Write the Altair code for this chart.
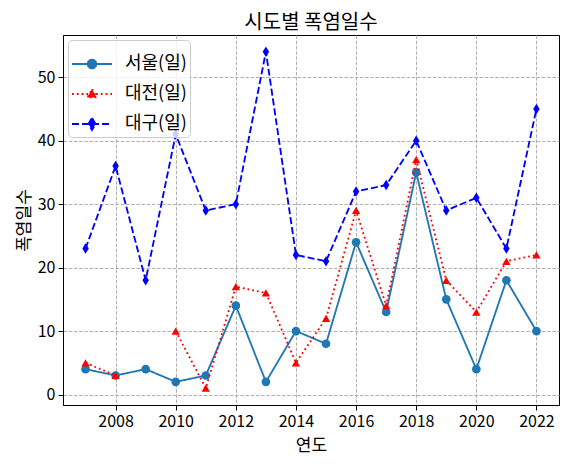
import altair as alt
import pandas as pd

years = list(range(2007, 2023))
seoul = [4, 3, 4, 2, 3, 14, 2, 10, 8, 24, 13, 35, 15, 4, 18, 10]
daejeon = [5, 3, None, 10, 1, 17, 16, 5, 12, 29, 14, 37, 18, 13, 21, 22]
daegu = [23, 36, 18, 41, 29, 30, 54, 22, 21, 32, 33, 40, 29, 31, 23, 45]

series_names = ["서울(일)", "대전(일)", "대구(일)"]
colors = ["#1f77b4", "#ff0000", "#0000ff"]
dashes = [[1, 0], [1.8, 3], [7, 3]]
marker_shapes = ["circle", "triangle-up", "M0,-1L0.62,0L0,1L-0.62,0Z"]
marker_sizes = [75, 70, 110]

# legend symbols: short line segment with the marker in the middle
legend_shapes = [
    "M-1,0L1,0M-0.22,0L-0.19,-0.11L-0.11,-0.19L0,-0.22L0.11,-0.19L0.19,-0.11"
    "L0.22,0L0.19,0.11L0.11,0.19L0,0.22L-0.11,0.19L-0.19,0.11Z",
    "M-1,0L1,0M0,-0.24L0.23,0.17L-0.23,0.17Z",
    "M-1,0L1,0M0,-0.3L0.18,0L0,0.3L-0.18,0Z",
]

FONT = "Noto Sans CJK KR"

rows = []
for name, vals in zip(series_names, [seoul, daejeon, daegu]):
    for y, v in zip(years, vals):
        rows.append({"year": y, "series": name, "value": v})
df = pd.DataFrame(rows)

x_enc = alt.X(
    "year:Q",
    title="연도",
    scale=alt.Scale(domain=[2006.25, 2022.75], nice=False, zero=False),
    axis=alt.Axis(values=list(range(2008, 2023, 2)), format="d"),
)
y_enc = alt.Y(
    "value:Q",
    title="폭염일수",
    scale=alt.Scale(domain=[-1.65, 56.65], nice=False, zero=False),
    axis=alt.Axis(values=[0, 10, 20, 30, 40, 50]),
)

leg = alt.Legend(
    title="",
    orient="top-left",
    offset=5,
    labelFont=FONT,
    labelFontSize=18,
    labelColor="black",
    labelOffset=12,
    fillColor="rgba(255,255,255,0.8)",
    strokeColor="#cccccc",
    cornerRadius=4,
    padding=3,
    rowPadding=-4,
    symbolStrokeWidth=1.85,
    symbolSize=1600,
    symbolOpacity=1,
)

color_enc = alt.Color(
    "series:N",
    scale=alt.Scale(domain=series_names, range=colors),
    legend=leg,
)
shape_enc = alt.Shape(
    "series:N",
    scale=alt.Scale(domain=series_names, range=legend_shapes),
    legend=leg,
)
dash_enc = alt.StrokeDash(
    "series:N",
    scale=alt.Scale(domain=series_names, range=dashes),
    legend=leg,
)

base = alt.Chart(df)
layers = []
for name, dash, shp, sz in zip(series_names, dashes, marker_shapes, marker_sizes):
    sub = base.transform_filter(alt.datum.series == name)
    layers.append(
        sub.mark_line(strokeWidth=1.85, strokeDash=dash).encode(
            x=x_enc, y=y_enc, color=color_enc
        )
    )
    layers.append(
        sub.transform_filter("isValid(datum.value)")
        .mark_point(filled=True, opacity=1, shape=shp, size=sz)
        .encode(x=x_enc, y=y_enc, color=color_enc)
    )

# invisible point layer that only carries the legend symbols
legend_layer = (
    base.transform_filter("isValid(datum.value)")
    .mark_point(filled=False, opacity=0, size=1600, strokeWidth=1.85)
    .encode(x=x_enc, y=y_enc, color=color_enc, shape=shape_enc, strokeDash=dash_enc)
)

chart = (
    alt.layer(*layers, legend_layer)
    .properties(
        width=496,
        height=370,
        padding={"left": 55, "top": 27, "right": 2, "bottom": 50},
        autosize=alt.AutoSizeParams(type="none"),
        title=alt.TitleParams(
            "시도별 폭염일수",
            font=FONT,
            fontSize=20,
            fontWeight="normal",
            color="black",
            frame="group",
            anchor="middle",
            offset=2,
        ),
    )
    .configure_view(stroke="black", strokeWidth=1)
    .configure_axis(
        labelFont=FONT,
        titleFont=FONT,
        labelFontSize=16,
        titleFontSize=17,
        titleFontWeight="normal",
        labelColor="black",
        titleColor="black",
        domainColor="black",
        tickColor="black",
        tickSize=5,
        labelPadding=3,
        gridColor="#b0b0b0",
        gridDash=[3.6, 1.6],
        gridWidth=1,
    )
    .configure_axisX(titlePadding=8)
    .configure_axisY(titlePadding=4)
)

chart.save("out.html", embed_options={"renderer": "svg", "actions": False})
